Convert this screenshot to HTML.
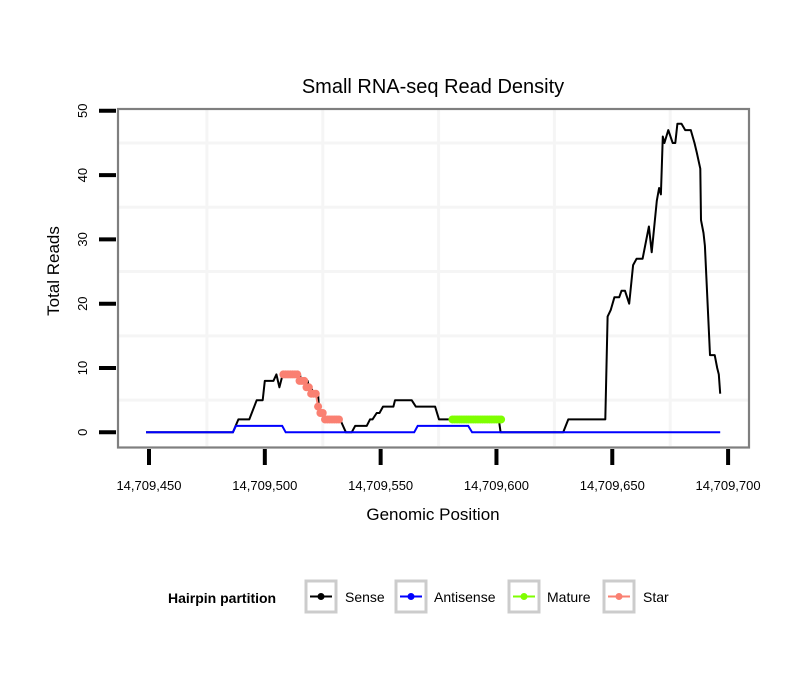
<!DOCTYPE html>
<html><head><meta charset="utf-8"><style>
body{margin:0;background:#fff;}
text{font-family:"Liberation Sans",sans-serif;}
</style></head><body>
<svg id="chart" width="810" height="690" xmlns="http://www.w3.org/2000/svg">
<rect width="810" height="690" fill="#fff"/>
<text x="433" y="93" font-size="20" text-anchor="middle">Small RNA-seq Read Density</text>
<g id="grid"></g>
<g id="series"></g>
<rect x="118" y="109" width="631" height="338.5" fill="none" stroke="#7f7f7f" stroke-width="2.2"/>
<g id="axes"></g>
<text x="433" y="520" font-size="17" text-anchor="middle">Genomic Position</text>
<text transform="translate(59,271) rotate(-90)" font-size="17" text-anchor="middle">Total Reads</text>
<g>
<text x="168" y="603" font-size="14" font-weight="bold">Hairpin partition</text>
<g><rect x="306" y="581" width="30" height="31" fill="#fff" stroke="#cccccc" stroke-width="3"/><line x1="310" y1="596.5" x2="332" y2="596.5" stroke="#000" stroke-width="2"/><circle cx="321" cy="596.5" r="3.5" fill="#000"/><text x="345" y="602" font-size="14">Sense</text></g>
<g><rect x="396" y="581" width="30" height="31" fill="#fff" stroke="#cccccc" stroke-width="3"/><line x1="400" y1="596.5" x2="422" y2="596.5" stroke="#0000ff" stroke-width="2"/><circle cx="411" cy="596.5" r="3.5" fill="#0000ff"/><text x="434" y="602" font-size="14">Antisense</text></g>
<g><rect x="509" y="581" width="30" height="31" fill="#fff" stroke="#cccccc" stroke-width="3"/><line x1="513" y1="596.5" x2="535" y2="596.5" stroke="#7fff00" stroke-width="2"/><circle cx="524" cy="596.5" r="3.5" fill="#7fff00"/><text x="547" y="602" font-size="14">Mature</text></g>
<g><rect x="604" y="581" width="30" height="31" fill="#fff" stroke="#cccccc" stroke-width="3"/><line x1="608" y1="596.5" x2="630" y2="596.5" stroke="#fa8072" stroke-width="2"/><circle cx="619" cy="596.5" r="3.5" fill="#fa8072"/><text x="643" y="602" font-size="14">Star</text></g>
</g>
</svg>
<script>
const BASE = 14709000;
const xTicks = [450, 500, 550, 600, 650, 700];
const xTickLabels = ["14,709,450","14,709,500","14,709,550","14,709,600","14,709,650","14,709,700"];
const yTicks = [0, 10, 20, 30, 40, 50];
const senseX = [448.7,486.2,488.6,493.3,496.5,499.1,500,503.7,505,506.3,507.7,515.2,515.6,518.5,519,520,521,523,523.3,524.7,525.5,532.5,535,537.5,539,544,545.4,546.5,548.3,549.5,551,555.5,556.2,563.4,565.2,573.5,575.2,601,601.8,628.8,631,647,648,649.3,650.9,653,654,655.5,657.3,659,660.5,663.1,665.8,667,669.2,670.2,671,671.8,672.5,674.2,676.1,677.2,678.1,679.9,681.5,683.9,685.5,686.5,688,688.3,689.4,690,692.2,694.2,695.3,696,696.6];
const senseY = [0,0,2,2,5,5,8,8,9,7,9,9,8,8,7,7,6,6,4,3,2,2,0,0,1,1,2,2,3,3,4,4,5,5,4,4,2,2,0,0,2,2,18,19,21,21,22,22,20,26,27,27,32,28,36,38,37,46,45,47,45,45,48,48,47,47,45,43.5,41,33,31,29,12,12,10,9,6];
const antiX = [448.7,486.2,487.5,507.5,509,564.5,566,587.8,589.5,696.6];
const antiY = [0,0,1,1,0,0,1,1,0,0];
const matureX = [581,582,583,584,585,586,587,588,589,590,591,592,593,594,595,596,597,598,599,600,601,602];
const matureY = [2,2,2,2,2,2,2,2,2,2,2,2,2,2,2,2,2,2,2,2,2,2];
const starX = [508,509,510,511,512,513,514,515,516,517,518,519,520,521,522,523,524,525,526,527,528,529,530,531,532];
const starY = [9,9,9,9,9,9,9,8,8,8,7,7,6,6,6,4,3,3,2,2,2,2,2,2,2];

const NS = "http://www.w3.org/2000/svg";
function sx(v){ return 149 + (v - 450) * 2.3164; }
function sy(v){ return 432.3 - v * 6.43; }
function mk(tag, attrs, parent){ const e = document.createElementNS(NS, tag); for (const k in attrs) e.setAttribute(k, attrs[k]); parent.appendChild(e); return e; }

const grid = document.getElementById('grid');
[475,525,575,625,675].forEach(v=>{
  const l = mk('line',{x1:sx(v),x2:sx(v),y1:110,y2:446,stroke:'#f5f5f5','stroke-width':3},grid);
  
  
});
[5,15,25,35,45].forEach(v=>{
  const l = mk('line',{x1:119,x2:748,y1:sy(v),y2:sy(v),stroke:'#f5f5f5','stroke-width':3},grid);
  
  
});

const axes = document.getElementById('axes');
xTicks.forEach((v,i)=>{
  const t = mk('line',{x1:sx(v),x2:sx(v),y1:449,y2:465,stroke:'#000','stroke-width':4},axes);
  
  
  const lb = mk('text',{x:sx(v),y:490,'font-size':13,'text-anchor':'middle'},axes);
  lb.textContent = xTickLabels[i];
  
  
});
yTicks.forEach(v=>{
  const t = mk('line',{x1:99,x2:116,y1:sy(v),y2:sy(v),stroke:'#000','stroke-width':4},axes);
  
  
  const lb = mk('text',{transform:`translate(87,${sy(v)}) rotate(-90)`,'font-size':13,'text-anchor':'middle'},axes);
  lb.textContent = String(v);
  
  
});

const series = document.getElementById('series');
function pts(xs, ys){ return xs.map((x,i)=>sx(x).toFixed(1)+','+sy(ys[i]).toFixed(1)).join(' '); }
const sense = mk('polyline',{points:pts(senseX,senseY),fill:'none',stroke:'#000','stroke-width':2,'stroke-linejoin':'round'},series);


const anti = mk('polyline',{points:pts(antiX,antiY),fill:'none',stroke:'#0000ff','stroke-width':2},series);


const mat = mk('polyline',{points:pts(matureX,matureY),fill:'none',stroke:'#7fff00','stroke-width':2},series);


matureX.forEach((x,i)=>{
  const c = mk('circle',{cx:sx(x),cy:sy(matureY[i]),r:4,fill:'#7fff00'},series);
  
  
});
const star = mk('polyline',{points:pts(starX,starY),fill:'none',stroke:'#fa8072','stroke-width':2},series);


starX.forEach((x,i)=>{
  const c = mk('circle',{cx:sx(x),cy:sy(starY[i]),r:4,fill:'#fa8072'},series);
  
  
});
</script>
</body></html>
